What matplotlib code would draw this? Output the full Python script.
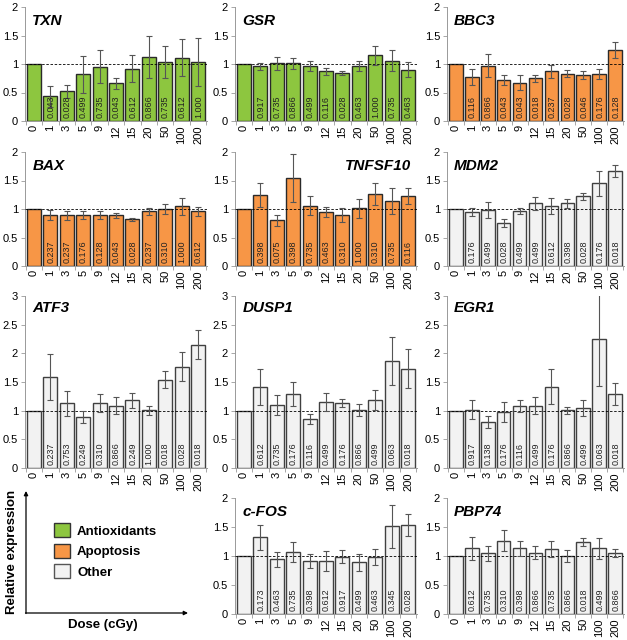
import numpy as np
import matplotlib
matplotlib.use('Agg')
import matplotlib.pyplot as plt
from matplotlib.patches import Patch

plt.rcParams['font.family'] = 'Liberation Sans'

doses = ['0', '1', '3', '5', '9', '12', '15', '20', '50', '100', '200']

# means include the 0 cGy reference (=1); errors and p-values are for doses 1..200
txn_mean = [1, 0.43, 0.52, 0.82, 0.95, 0.66, 0.92, 1.13, 1.04, 1.11, 1.04]
txn_err = [0.18, 0.12, 0.32, 0.29, 0.09, 0.23, 0.37, 0.28, 0.32, 0.42]
txn_p = ['0.043', '0.028', '0.499', '0.735', '0.043', '0.612', '0.866', '0.735', '0.612', '1.000']

gsr_mean = [1, 0.96, 1.01, 1.01, 0.96, 0.87, 0.84, 0.97, 1.15, 1.06, 0.90]
gsr_err = [0.06, 0.11, 0.09, 0.09, 0.06, 0.04, 0.09, 0.16, 0.19, 0.13]
gsr_p = ['0.917', '0.735', '0.866', '0.499', '0.116', '0.028', '0.463', '1.000', '0.735', '0.463']

bbc3_mean = [1, 0.78, 0.97, 0.72, 0.67, 0.75, 0.87, 0.83, 0.81, 0.83, 1.25]
bbc3_err = [0.14, 0.20, 0.08, 0.13, 0.06, 0.12, 0.06, 0.07, 0.09, 0.14]
bbc3_p = ['0.116', '0.866', '0.043', '0.043', '0.018', '0.237', '0.028', '0.046', '0.176', '0.128']

bax_mean = [1, 0.89, 0.89, 0.89, 0.89, 0.89, 0.82, 0.96, 1.00, 1.05, 0.96]
bax_err = [0.09, 0.08, 0.07, 0.07, 0.04, 0.03, 0.06, 0.08, 0.15, 0.08]
bax_p = ['0.237', '0.237', '0.176', '0.128', '0.043', '0.028', '0.237', '0.310', '1.000', '0.612']

tnfsf10_mean = [1, 1.24, 0.80, 1.55, 1.06, 0.95, 0.90, 1.01, 1.26, 1.14, 1.22]
tnfsf10_err = [0.21, 0.10, 0.42, 0.16, 0.09, 0.12, 0.17, 0.19, 0.22, 0.14]
tnfsf10_p = ['0.398', '0.075', '0.398', '0.735', '0.463', '0.310', '1.000', '0.310', '0.735', '0.116']

mdm2_mean = [1, 0.94, 0.99, 0.75, 0.97, 1.10, 1.06, 1.10, 1.22, 1.45, 1.67]
mdm2_err = [0.07, 0.14, 0.07, 0.05, 0.11, 0.14, 0.08, 0.06, 0.22, 0.11]
mdm2_p = ['0.176', '0.499', '0.028', '0.499', '0.499', '0.612', '0.398', '0.028', '0.176', '0.018']

atf3_mean = [1, 1.58, 1.13, 0.89, 1.13, 1.09, 1.18, 1.01, 1.54, 1.77, 2.15]
atf3_err = [0.40, 0.22, 0.11, 0.16, 0.15, 0.13, 0.08, 0.15, 0.26, 0.25]
atf3_p = ['0.237', '0.753', '0.249', '0.310', '0.866', '0.249', '1.000', '0.018', '0.028', '0.018']

dusp1_mean = [1, 1.41, 1.10, 1.29, 0.85, 1.15, 1.13, 1.01, 1.19, 1.86, 1.73]
dusp1_err = [0.31, 0.17, 0.21, 0.09, 0.15, 0.07, 0.10, 0.17, 0.42, 0.34]
dusp1_p = ['0.612', '0.735', '0.176', '0.116', '0.499', '0.176', '0.866', '0.499', '0.063', '0.018']

egr1_mean = [1, 1.02, 0.80, 0.98, 1.08, 1.09, 1.42, 1.01, 1.04, 2.25, 1.29]
egr1_err = [0.16, 0.10, 0.17, 0.11, 0.15, 0.31, 0.06, 0.14, 0.82, 0.19]
egr1_p = ['0.917', '0.138', '0.176', '0.116', '0.499', '0.176', '0.866', '0.499', '0.063', '0.018']

cfos_mean = [1, 1.32, 0.94, 1.07, 0.92, 0.92, 0.99, 0.89, 0.98, 1.51, 1.54]
cfos_err = [0.22, 0.13, 0.17, 0.12, 0.17, 0.11, 0.14, 0.14, 0.37, 0.19]
cfos_p = ['0.173', '0.463', '0.735', '0.398', '0.612', '0.917', '0.499', '0.463', '0.345', '0.028']

pbp74_mean = [1, 1.13, 1.05, 1.26, 1.13, 1.06, 1.12, 1.00, 1.24, 1.13, 1.05]
pbp74_err = [0.20, 0.13, 0.18, 0.13, 0.11, 0.14, 0.10, 0.07, 0.18, 0.07]
pbp74_p = ['0.612', '0.735', '0.310', '0.398', '0.866', '0.735', '0.866', '0.018', '0.499', '0.866']

group_colors = {'Antioxidants': '#8dc63f', 'Apoptosis': '#f79646', 'Other': '#f2f2f2'}

# (gene, mean, err, p, group, row, col, ymax, title side)
panels = [
    ('TXN', txn_mean, txn_err, txn_p, 'Antioxidants', 0, 0, 2, 'left'),
    ('GSR', gsr_mean, gsr_err, gsr_p, 'Antioxidants', 0, 1, 2, 'left'),
    ('BBC3', bbc3_mean, bbc3_err, bbc3_p, 'Apoptosis', 0, 2, 2, 'left'),
    ('BAX', bax_mean, bax_err, bax_p, 'Apoptosis', 1, 0, 2, 'left'),
    ('TNFSF10', tnfsf10_mean, tnfsf10_err, tnfsf10_p, 'Apoptosis', 1, 1, 2, 'right'),
    ('MDM2', mdm2_mean, mdm2_err, mdm2_p, 'Other', 1, 2, 2, 'left'),
    ('ATF3', atf3_mean, atf3_err, atf3_p, 'Other', 2, 0, 3, 'left'),
    ('DUSP1', dusp1_mean, dusp1_err, dusp1_p, 'Other', 2, 1, 3, 'left'),
    ('EGR1', egr1_mean, egr1_err, egr1_p, 'Other', 2, 2, 3, 'left'),
    ('c-FOS', cfos_mean, cfos_err, cfos_p, 'Other', 3, 1, 2, 'left'),
    ('PBP74', pbp74_mean, pbp74_err, pbp74_p, 'Other', 3, 2, 2, 'left'),
]

W, H = 627, 640
col_x = [(25, 207), (235, 417), (447, 624)]      # pixel extents of each column
row_y = [(7, 121), (152, 266), (296, 468), (498, 614)]

fig = plt.figure(figsize=(W / 100, H / 100), dpi=100)

for gene, mean, err, pv, group, r, c, ymax, side in panels:
    x0, x1 = col_x[c]
    y0, y1 = row_y[r]
    ax = fig.add_axes([x0 / W, 1 - y1 / H, (x1 - x0) / W, (y1 - y0) / H])
    x = np.arange(len(doses))
    edge = '#404040' if group == 'Other' else '#2a2a2a'
    ax.bar(x, mean, width=0.86, color=group_colors[group], edgecolor=edge, linewidth=1.0, zorder=2)
    ax.errorbar(x[1:], mean[1:], yerr=err, fmt='none', ecolor='#555555', elinewidth=0.8,
                capsize=2, capthick=0.8, zorder=4)
    ax.axhline(1, color='black', lw=0.6, ls=(0, (3, 2)), zorder=3)
    for xi, p in zip(x[1:], pv):
        ax.annotate(p, xy=(xi, 0), xytext=(0.3, 2), textcoords='offset points', rotation=90,
                    ha='center', va='bottom', fontsize=6.5, color='#222222', zorder=5)
    ax.set_xlim(-0.55, len(doses) - 0.45)
    ax.set_ylim(0, ymax)
    ax.set_yticks(np.arange(0, ymax + 0.01, 0.5), labels=['0', '0.5', '1', '1.5', '2', '2.5', '3'][:2 * ymax + 1])
    ax.set_xticks(x, labels=doses, rotation=90)
    ax.set_xticks(np.arange(-0.5, len(doses), 1), minor=True)
    ax.tick_params(axis='x', which='major', length=0, pad=3, labelsize=8)
    ax.tick_params(axis='x', which='minor', length=3, color='#999999', width=0.6)
    ax.tick_params(axis='y', length=3, color='#999999', width=0.6, labelsize=8, pad=2)
    for s in ['top', 'right']:
        ax.spines[s].set_visible(False)
    for s in ['left', 'bottom']:
        ax.spines[s].set_color('#999999')
        ax.spines[s].set_linewidth(0.7)
    ty = 0.93 if ymax == 3 else 0.875
    if side == 'left':
        ax.text(0.04, ty, gene, transform=ax.transAxes, ha='left', va='center',
                fontsize=11, fontweight='bold', fontstyle='italic')
    else:
        ax.text(0.97, ty, gene, transform=ax.transAxes, ha='right', va='center',
                fontsize=11, fontweight='bold', fontstyle='italic')

# legend / axis key panel (bottom-left), laid out in pixel units
lax = fig.add_axes([0, 0, 210 / W, 170 / H])
lax.set_xlim(0, 210)
lax.set_ylim(170, 0)
lax.axis('off')
lax.annotate('', xy=(26, 21), xytext=(26, 143.5),
             arrowprops=dict(arrowstyle='-|>', color='black', lw=0.9, mutation_scale=6, shrinkA=0, shrinkB=0))
lax.annotate('', xy=(188, 143), xytext=(25.5, 143),
             arrowprops=dict(arrowstyle='-|>', color='black', lw=0.9, mutation_scale=6, shrinkA=0, shrinkB=0))
lax.text(12, 82, 'Relative expression', rotation=90, ha='center', va='center',
         fontsize=9.5, fontweight='bold')
lax.text(103, 155, 'Dose (cGy)', ha='center', va='center', fontsize=9.5, fontweight='bold')

handles = [Patch(facecolor=group_colors[g], edgecolor='#333333' if g != 'Other' else '#555555', linewidth=1.0)
           for g in group_colors]
leg = lax.legend(handles, list(group_colors), loc='center left', bbox_to_anchor=(54 / 210, 1 - 81 / 170),
                 frameon=False, handlelength=1.25, handleheight=1.25, labelspacing=0.45,
                 handletextpad=0.5, borderaxespad=0, borderpad=0,
                 prop={'size': 9.5, 'weight': 'bold'})

fig.savefig('out.png', dpi=100)
